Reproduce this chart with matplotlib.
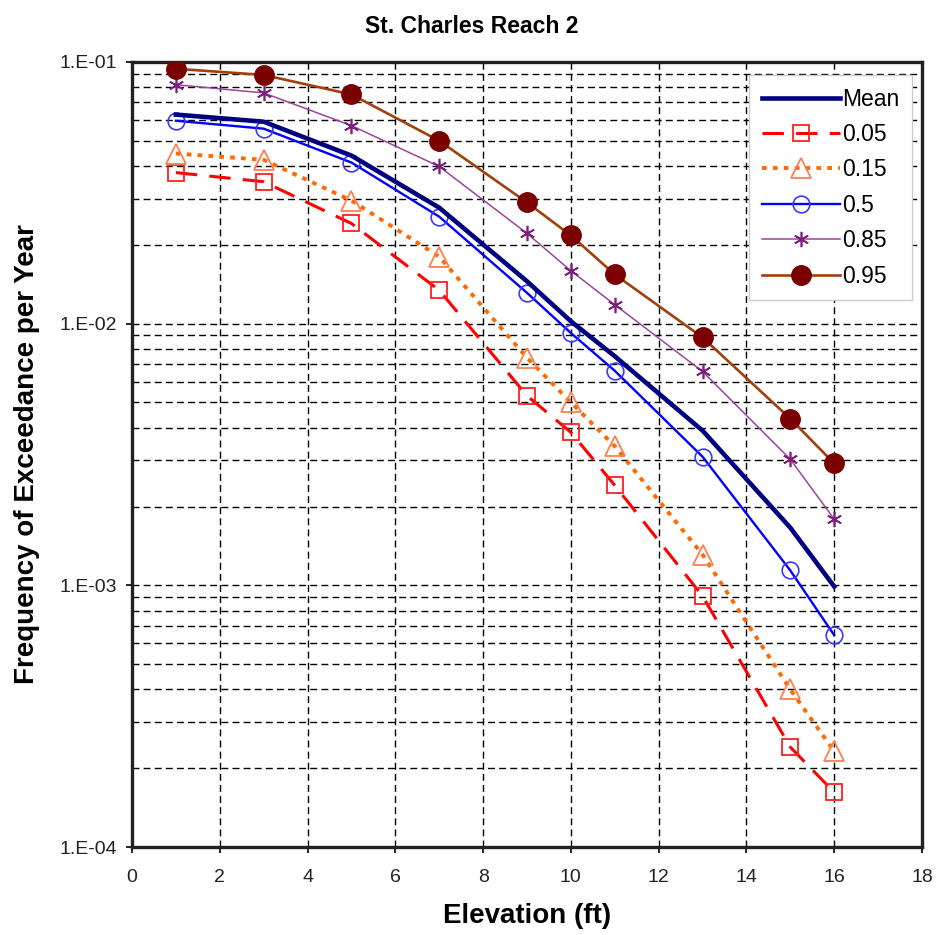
import matplotlib
matplotlib.use("Agg")
import matplotlib.pyplot as plt
from matplotlib.ticker import FixedLocator, FixedFormatter, LogLocator, NullFormatter

elev = [1, 3, 5, 7, 9, 10, 11, 13, 15, 16]
mean_x = [1, 3, 5, 7, 9, 10, 11, 13, 15, 16]
mean_y = [0.0628, 0.059, 0.0438, 0.0277, 0.0145, 0.0102, 0.0075, 0.0039, 0.00166, 0.00099]
p05 = [0.0377, 0.0348, 0.0241, 0.0134, 0.0053, 0.00384, 0.00241, 0.00091, 0.000241, 0.000162]
p15 = [0.0446, 0.0422, 0.0295, 0.018, 0.0074, 0.0050, 0.0034, 0.00131, 0.0004, 0.000232]
p50 = [0.0595, 0.0555, 0.0412, 0.0256, 0.0131, 0.0092, 0.0066, 0.0031, 0.00114, 0.000645]
p85 = [0.0817, 0.076, 0.057, 0.0398, 0.0221, 0.0159, 0.0118, 0.00656, 0.00303, 0.00179]
p95 = [0.094, 0.089, 0.075, 0.0499, 0.029, 0.0217, 0.0154, 0.00885, 0.00433, 0.00292]

ytick_vals = [1e-4, 1e-3, 1e-2, 1e-1]
ytick_labels = ["1.E-04", "1.E-03", "1.E-02", "1.E-01"]

plt.rcParams['font.family'] = ['Liberation Sans', 'DejaVu Sans']

fig = plt.figure(figsize=(9.4, 9.35), dpi=100)
ax = fig.add_axes([0.1404, 0.094, 0.8404, 0.840])

ax.plot(mean_x, mean_y, color='#000080', lw=3.3, label='Mean', zorder=5)
ax.plot(elev, p05, color='#FF0000', lw=2.2, dashes=(7, 4), marker='s', ms=12,
        mfc='none', mec='#FF2020', mew=1.3, label='0.05', zorder=4)
ax.plot(elev, p15, color='#FF6A00', lw=2.8, dashes=(1.2, 1.6), marker='^', ms=14,
        mfc='none', mec='#FF7F50', mew=1.3, label='0.15', zorder=4)
ax.plot(elev, p50, color='#0000FF', lw=1.7, marker='o', ms=12,
        mfc='none', mec='#3A3AFF', mew=1.2, label='0.5', zorder=4)
ax.plot(elev, p85, color='#9B449B', lw=1.1, marker=(6, 2, 0), ms=11,
        mec='#7A1F7A', mew=1.2, label='0.85', zorder=4)
ax.plot(elev, p95, color='#A0400A', lw=1.9, marker='o', ms=14,
        mfc='#7B0000', mec='#7B0000', label='0.95', zorder=4)

ax.set_yscale('log')
ax.set_xlim(0, 18)
ax.set_ylim(1e-4, 1e-1)
ax.xaxis.set_major_locator(FixedLocator(list(range(0, 19, 2))))
ax.yaxis.set_major_locator(FixedLocator(ytick_vals))
ax.yaxis.set_major_formatter(FixedFormatter(ytick_labels))
ax.yaxis.set_minor_locator(LogLocator(base=10, subs=range(2, 10)))
ax.yaxis.set_minor_formatter(NullFormatter())

ax.grid(True, which='major', axis='both', color='black', ls=(0, (5, 3)), lw=1.0)
ax.grid(True, which='minor', axis='y', color='black', ls=(0, (5, 3)), lw=1.0)

for s in ax.spines.values():
    s.set_linewidth(2.4)
    s.set_color('#222222')

ax.tick_params(axis='both', which='major', labelsize=14, length=4, width=1.2,
               direction='out', labelcolor='#222222')
ax.tick_params(axis='x', which='major', pad=12)
ax.tick_params(axis='y', which='major', pad=7)
ax.tick_params(axis='y', which='minor', length=0)

ax.set_xlabel('Elevation (ft)', fontsize=20, fontweight='bold', labelpad=12)
ax.set_ylabel('Frequency of Exceedance per Year', fontsize=20, fontweight='bold', labelpad=14)
fig.text(0.502, 0.972, 'St. Charles Reach 2', fontsize=16.5, fontweight='bold',
         ha='center', va='center')

leg = ax.legend(loc='upper right', bbox_to_anchor=(0.9875, 0.983), fontsize=16.5,
                handlelength=3.4, handletextpad=0.1, labelspacing=0.54,
                frameon=True, fancybox=False, framealpha=1, edgecolor='#cccccc',
                borderpad=0.55, borderaxespad=0.0)
leg.set_zorder(10)

fig.savefig('out.png', dpi=100)
